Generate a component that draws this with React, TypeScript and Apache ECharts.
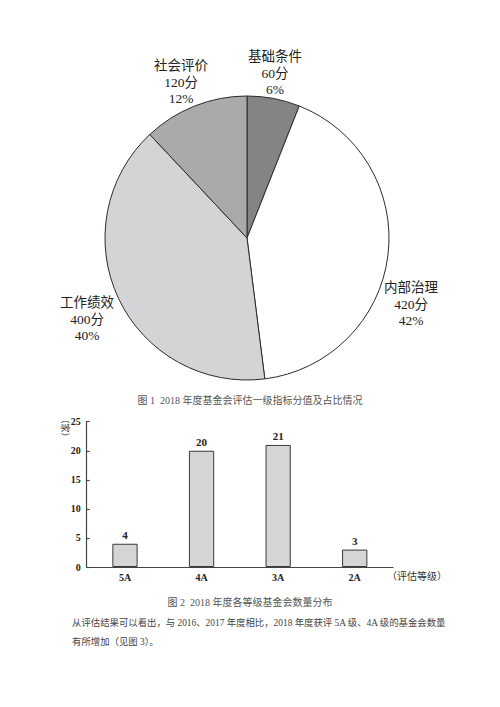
import React, { useEffect, useRef } from "react";
import * as echarts from "echarts";

const PIE_NAMES = ["基础条件", "内部治理", "工作绩效", "社会评价"];
const PIE_VALUES = [60, 420, 400, 120];
const PIE_COLORS = ["#838486", "#ffffff", "#d3d4d6", "#a9aaac"];
const PIE_LABEL_POS = [
  [275, 73],
  [411, 304],
  [87, 319],
  [181, 82],
];

const BAR_CATEGORIES = ["5A", "4A", "3A", "2A"];
const BAR_VALUES = [4, 20, 21, 3];
const Y_TICKS = [0, 5, 10, 15, 20, 25];

const CAPTION_1 = "图 1  2018 年度基金会评估一级指标分值及占比情况";
const CAPTION_2 = "图 2  2018 年度各等级基金会数量分布";
const PARA_1 = "从评估结果可以看出，与 2016、2017 年度相比，2018 年度获评 5A 级、4A 级的基金会数量";
const PARA_2 = "有所增加（见图 3）。";

const SERIF = "'Liberation Serif', 'DejaVu Serif', 'Noto Sans CJK SC', serif";

export default function App() {
  const ref = useRef<HTMLDivElement>(null);
  useEffect(() => {
    if (!ref.current) return;
    const chart = echarts.init(ref.current, null, { renderer: "svg" });
    chart.setOption({
      animation: false,
      backgroundColor: "#ffffff",
      grid: { left: 86.7, right: 107, top: 421.7, bottom: 140, containLabel: false },
      xAxis: {
        type: "category",
        data: BAR_CATEGORIES,
        boundaryGap: true,
        axisLine: { lineStyle: { color: "#444", width: 1.2 } },
        axisTick: { inside: true, length: 3, lineStyle: { color: "#444", width: 1.2 } },
        axisLabel: { margin: 5, fontSize: 10, fontWeight: "bold", fontFamily: SERIF, color: "#222" },
        name: "（评估等级）",
        nameLocation: "end",
        nameGap: -6,
        nameTextStyle: {
          fontSize: 10,
          fontFamily: SERIF,
          color: "#333",
          verticalAlign: "top",
          padding: [5, 0, 0, 0],
        },
      },
      yAxis: {
        type: "value",
        min: Y_TICKS[0],
        max: Y_TICKS[Y_TICKS.length - 1],
        interval: Y_TICKS[1] - Y_TICKS[0],
        axisLine: { show: true, lineStyle: { color: "#444", width: 1.2 } },
        axisTick: { show: true, inside: true, length: 3, lineStyle: { color: "#444", width: 1.2 } },
        splitLine: { show: false },
        axisLabel: { margin: 6, fontSize: 10, fontWeight: "bold", fontFamily: SERIF, color: "#222" },
      },
      series: [
        {
          type: "pie",
          center: [247, 238],
          radius: 142,
          startAngle: 90,
          clockwise: true,
          avoidLabelOverlap: false,
          data: PIE_NAMES.map((n, i) => ({
            name: n,
            value: PIE_VALUES[i],
            itemStyle: { color: PIE_COLORS[i] },
          })),
          itemStyle: { borderColor: "#2b2b2b", borderWidth: 1 },
          emphasis: { disabled: true },
          label: {
            show: true,
            position: "outside",
            align: "center",
            fontSize: 13.5,
            lineHeight: 16.5,
            fontFamily: SERIF,
            color: "#222",
            formatter: (p: any) => `${p.name}\n${p.value}分\n${Math.round(p.percent)}%`,
          },
          labelLine: { show: false },
          labelLayout: (params: any) => {
            const pos = PIE_LABEL_POS[params.dataIndex];
            return { x: pos[0], y: pos[1], align: "center", verticalAlign: "middle" };
          },
        },
        {
          type: "bar",
          data: BAR_VALUES,
          barWidth: "33%",
          itemStyle: { color: "#d4d5d7", borderColor: "#3a3a3a", borderWidth: 1 },
          emphasis: { disabled: true },
          label: {
            show: true,
            position: "top",
            distance: 3,
            fontSize: 11,
            fontWeight: "bold",
            fontFamily: SERIF,
            color: "#222",
          },
        },
      ],
      graphic: [
        {
          type: "text",
          x: 65,
          y: 428,
          rotation: -Math.PI / 2,
          style: {
            text: "（家）",
            fontSize: 9,
            fontFamily: SERIF,
            fill: "#333",
            align: "center",
            verticalAlign: "middle",
          },
        },
        {
          type: "text",
          x: 250,
          y: 400,
          style: {
            text: CAPTION_1,
            fontSize: 10,
            fontFamily: SERIF,
            fill: "#555",
            align: "center",
            verticalAlign: "middle",
          },
        },
        {
          type: "text",
          x: 250,
          y: 602,
          style: {
            text: CAPTION_2,
            fontSize: 10,
            fontFamily: SERIF,
            fill: "#555",
            align: "center",
            verticalAlign: "middle",
          },
        },
        {
          type: "text",
          x: 72,
          y: 623,
          style: {
            text: PARA_1,
            fontSize: 9.4,
            fontFamily: SERIF,
            fill: "#444",
            align: "left",
            verticalAlign: "middle",
          },
        },
        {
          type: "text",
          x: 72,
          y: 642,
          style: {
            text: PARA_2,
            fontSize: 9.4,
            fontFamily: SERIF,
            fill: "#444",
            align: "left",
            verticalAlign: "middle",
          },
        },
      ],
    });
    return () => chart.dispose();
  }, []);
  return (
    <div
      ref={ref}
      style={{ position: "absolute", left: 0, top: 0, width: 500, height: 707, background: "#fff" }}
    />
  );
}
